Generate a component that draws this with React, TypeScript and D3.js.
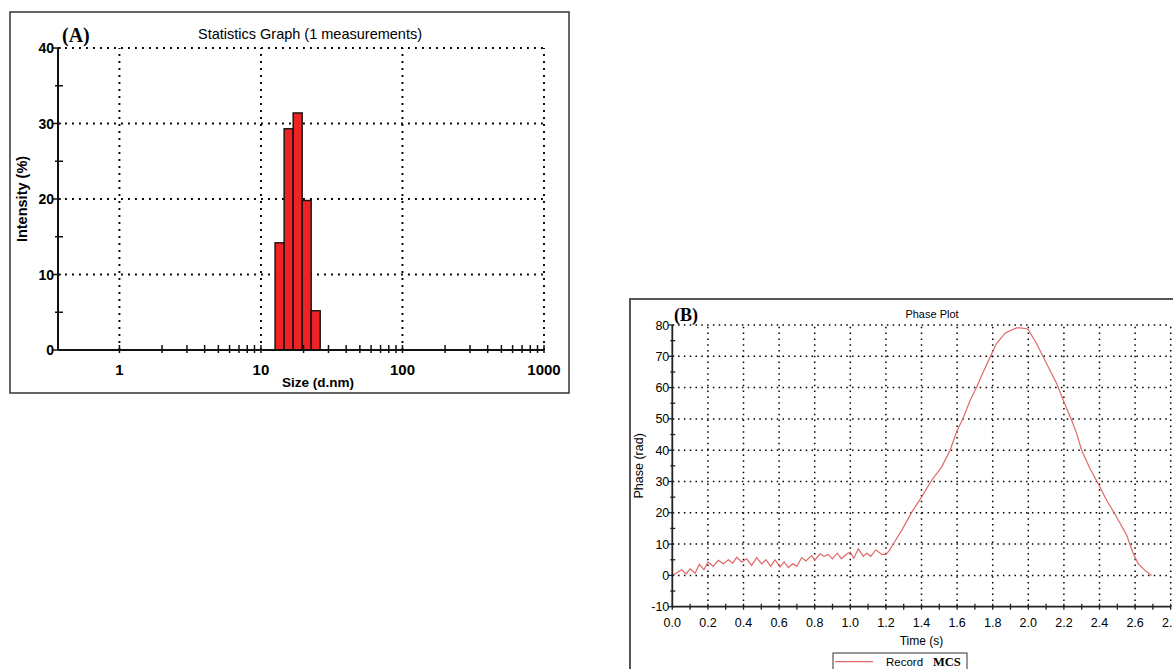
import React from "react";
import * as d3 from "d3";

// Panel A: size distribution by intensity
const sizeBins = [13.54, 15.69, 18.17, 21.04, 24.36];
const intensity = [14.2, 29.3, 31.4, 19.8, 5.2];
const sizeTicks = [1, 10, 100, 1000];
const intensityTicks = [0, 10, 20, 30, 40];

// Panel B: phase plot
const phaseTime = [
  0, 0.053, 0.077, 0.1, 0.128, 0.152, 0.178, 0.2, 0.23, 0.258, 0.287, 0.315, 0.34, 0.362,
  0.39, 0.418, 0.446, 0.474, 0.502, 0.526, 0.553, 0.577, 0.605, 0.628, 0.652, 0.676, 0.7,
  0.727, 0.751, 0.783, 0.8, 0.83, 0.852, 0.876, 0.9, 0.927, 0.95, 0.98, 1.0, 1.02, 1.045,
  1.073, 1.092, 1.115, 1.144, 1.176, 1.2, 1.22, 1.242, 1.289, 1.345, 1.4, 1.457, 1.513,
  1.56, 1.6, 1.632, 1.673, 1.71, 1.738, 1.785, 1.82, 1.87, 1.907, 1.935, 1.953, 1.99, 2.0,
  2.047, 2.103, 2.16, 2.197, 2.244, 2.272, 2.3, 2.347, 2.393, 2.44, 2.497, 2.553, 2.59,
  2.618, 2.655, 2.693,
];
const phaseValue = [
  0, 1.8, 0.5, 2.1, 0.7, 3.5, 1.8, 4.3, 2.9, 4.8, 3.7, 5.0, 3.9, 5.8,
  4.3, 5.3, 3.2, 5.7, 3.7, 5.0, 2.9, 5.0, 2.7, 4.3, 2.5, 3.7, 2.9,
  5.7, 4.6, 6.4, 4.8, 6.9, 6.1, 6.7, 5.3, 7.1, 5.3, 6.9, 7.4, 5.5, 8.5,
  6.1, 7.1, 6.1, 8.2, 6.7, 6.7, 8.0, 10.1, 14.4, 20.2, 25.0, 30.4, 34.6,
  39.9, 46.3, 50.0, 55.9, 60.2, 63.9, 69.7, 74.0, 77.4, 78.5, 79.1, 79.1, 78.8, 78.5,
  74.0, 67.6, 61.2, 55.9, 49.5, 45.3, 39.9, 34.1, 29.3, 24.0, 18.6, 12.8, 6.9,
  3.7, 1.6, 0,
];
const timeTicks = [0, 0.2, 0.4, 0.6, 0.8, 1.0, 1.2, 1.4, 1.6, 1.8, 2.0, 2.2, 2.4, 2.6, 2.8];
const phaseTicks = [-10, 0, 10, 20, 30, 40, 50, 60, 70, 80];

const SANS = "'Liberation Sans', Arial, sans-serif";
const SERIF = "'Liberation Serif', 'Times New Roman', serif";

const PanelA = () => {
  const x = d3.scaleLog().domain([0.368, 1000]).range([58, 544]);
  const y = d3.scaleLinear().domain([0, 40]).range([350, 48]);
  const [x0, x1] = x.range();
  const [y0, y1] = y.range();

  // bin edges: geometric midpoints between neighbouring bin centres
  const ratio = sizeBins[1] / sizeBins[0];
  const edges = sizeBins.map((c, i) =>
    i === 0 ? c / Math.sqrt(ratio) : Math.sqrt(sizeBins[i - 1] * c)
  );
  edges.push(sizeBins[sizeBins.length - 1] * Math.sqrt(ratio));

  const minor: number[] = [];
  [1, 10, 100].forEach(d => d3.range(2, 10).forEach(k => minor.push(d * k)));
  const yMinor = d3.range(5, 40, 10);
  const dot = { stroke: "#000", strokeWidth: 1.9, strokeDasharray: "1.9 5.1" };

  return (
    <g>
      <rect x={10} y={12} width={559} height={381} fill="#fff" stroke="#333" strokeWidth={1.5} />
      {intensityTicks.slice(1).map(t => (
        <line key={"h" + t} x1={x0} x2={x1} y1={y(t)} y2={y(t)} {...dot} />
      ))}
      {sizeTicks.map(t => (
        <line key={"v" + t} x1={x(t)} x2={x(t)} y1={y0} y2={y1} {...dot} />
      ))}
      {intensity.map((v, i) => (
        <rect
          key={i}
          x={x(edges[i])}
          y={y(v)}
          width={x(edges[i + 1]) - x(edges[i])}
          height={y0 - y(v)}
          fill="#ee2424"
          stroke="#111"
          strokeWidth={1.4}
        />
      ))}
      <line x1={x0} x2={x0} y1={y0} y2={y1} stroke="#111" strokeWidth={2} />
      <line x1={x0} x2={x1} y1={y0} y2={y0} stroke="#111" strokeWidth={2} />
      {intensityTicks.map(t => (
        <g key={"yt" + t}>
          <line x1={x0 - 5} x2={x0 + 3} y1={y(t)} y2={y(t)} stroke="#111" strokeWidth={1.5} />
          <text x={x0 - 4} y={y(t) + 5} textAnchor="end" fontFamily={SANS} fontSize={14} fontWeight="bold">
            {t}
          </text>
        </g>
      ))}
      {yMinor.map(t => (
        <line key={"ym" + t} x1={x0 - 3} x2={x0 + 5} y1={y(t)} y2={y(t)} stroke="#111" strokeWidth={1.5} />
      ))}
      {sizeTicks.map(t => (
        <g key={"xt" + t}>
          <line x1={x(t)} x2={x(t)} y1={y0 - 5} y2={y0 + 3} stroke="#111" strokeWidth={1.5} />
          <text x={x(t)} y={y0 + 25} textAnchor="middle" fontFamily={SANS} fontSize={15} fontWeight="bold">
            {t}
          </text>
        </g>
      ))}
      {minor.map(t => (
        <line key={"xm" + t} x1={x(t)} x2={x(t)} y1={y0 - 5} y2={y0 + 3} stroke="#111" strokeWidth={1.5} />
      ))}
      <text x={310} y={39} textAnchor="middle" fontFamily={SANS} fontSize={14.5}>
        Statistics Graph (1 measurements)
      </text>
      <text x={62} y={42} fontFamily={SERIF} fontSize={20} fontWeight="bold">
        (A)
      </text>
      <text x={318} y={387} textAnchor="middle" fontFamily={SANS} fontSize={13.5} fontWeight="bold">
        Size (d.nm)
      </text>
      <text
        transform={`translate(27,${(y0 + y1) / 2}) rotate(-90)`}
        textAnchor="middle"
        fontFamily={SANS}
        fontSize={14.5}
        fontWeight="bold"
      >
        Intensity (%)
      </text>
    </g>
  );
};

const PanelB = () => {
  const x = d3.scaleLinear().domain([0, 2.8]).range([672.3, 1170.7]);
  const y = d3.scaleLinear().domain([-10, 80]).range([606.7, 325]);
  const [x0, x1] = x.range();
  const [y0, y1] = y.range();
  const dot = { stroke: "#000", strokeWidth: 1.5, strokeDasharray: "1.5 4.3" };
  const xMinor = d3.range(0.1, 2.8, 0.2);
  const yMinor = d3.range(-5, 80, 10);

  const line = d3
    .line<number>()
    .x((_, i) => x(phaseTime[i]))
    .y(v => y(v));

  return (
    <g>
      <rect x={630} y={299} width={600} height={420} fill="#fff" stroke="#555" strokeWidth={2} />
      {phaseTicks.slice(1).map(t => (
        <line key={"h" + t} x1={x0} x2={x1} y1={y(t)} y2={y(t)} {...dot} />
      ))}
      {timeTicks.slice(1).map(t => (
        <line key={"v" + t} x1={x(t)} x2={x(t)} y1={y0} y2={y1} {...dot} />
      ))}
      <path d={line(phaseValue) || ""} fill="none" stroke="#e06868" strokeWidth={1.2} />
      <line x1={x0} x2={x0} y1={y0} y2={y1} stroke="#222" strokeWidth={1.8} />
      <line x1={x0} x2={x1} y1={y0} y2={y0} stroke="#222" strokeWidth={1.8} />
      {phaseTicks.map(t => (
        <g key={"yt" + t}>
          <line x1={x0 - 4} x2={x0 + 2} y1={y(t)} y2={y(t)} stroke="#222" strokeWidth={1.3} />
          <text x={x0 - 3} y={y(t) + 4.5} textAnchor="end" fontFamily={SANS} fontSize={12.5}>
            {t}
          </text>
        </g>
      ))}
      {yMinor.map(t => (
        <line key={"ym" + t} x1={x0 - 2} x2={x0 + 3} y1={y(t)} y2={y(t)} stroke="#222" strokeWidth={1.3} />
      ))}
      {timeTicks.map(t => (
        <g key={"xt" + t}>
          <line x1={x(t)} x2={x(t)} y1={y0 - 3} y2={y0 + 3} stroke="#222" strokeWidth={1.3} />
          <text x={x(t)} y={y0 + 20} textAnchor="middle" fontFamily={SANS} fontSize={12.5}>
            {t.toFixed(1)}
          </text>
        </g>
      ))}
      {xMinor.map(t => (
        <line key={"xm" + t} x1={x(t)} x2={x(t)} y1={y0 - 3} y2={y0 + 3} stroke="#222" strokeWidth={1.3} />
      ))}
      <text x={932} y={318} textAnchor="middle" fontFamily={SANS} fontSize={11}>
        Phase Plot
      </text>
      <text x={674} y={321} fontFamily={SERIF} fontSize={18} fontWeight="bold">
        (B)
      </text>
      <text x={(x0 + x1) / 2} y={645} textAnchor="middle" fontFamily={SANS} fontSize={12}>
        Time (s)
      </text>
      <text
        transform={`translate(643,${(y0 + y1) / 2}) rotate(-90)`}
        textAnchor="middle"
        fontFamily={SANS}
        fontSize={12.5}
      >
        Phase (rad)
      </text>
      <rect x={833} y={653} width={134} height={30} fill="#fff" stroke="#333" strokeWidth={1} />
      <line x1={835} x2={873} y1={661.7} y2={661.7} stroke="#e06868" strokeWidth={1.3} />
      <text x={886} y={666} fontFamily={SANS} fontSize={11.5}>
        Record
      </text>
      <text x={933} y={666} fontFamily={SERIF} fontSize={12.5} fontWeight="bold">
        MCS
      </text>
    </g>
  );
};

export default function App() {
  return (
    <svg
      width={1173}
      height={669}
      style={{ position: "absolute", left: 0, top: 0, background: "#fff" }}
    >
      <rect width={1173} height={669} fill="#fff" />
      <PanelA />
      <PanelB />
    </svg>
  );
}
